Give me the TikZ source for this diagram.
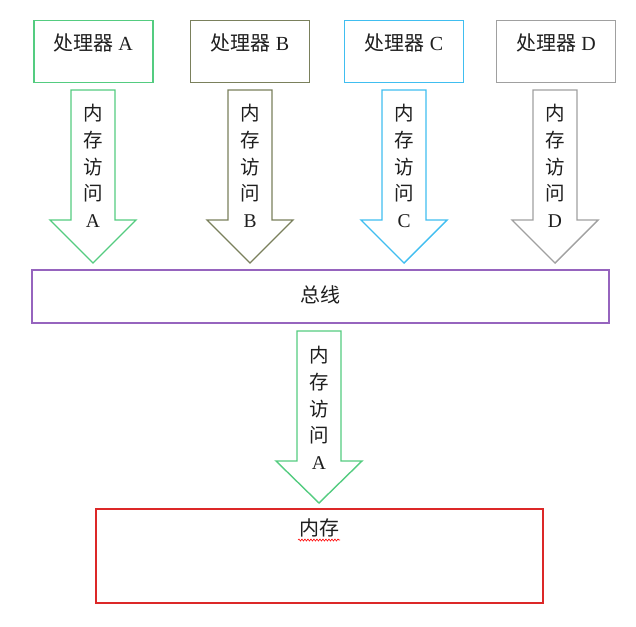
\documentclass[tikz,border=0pt]{standalone}
\usepackage{fontspec}
\setmainfont{Liberation Serif}
\newfontfamily\cjk{Noto Sans CJK SC}
\usetikzlibrary{decorations.pathmorphing}
\definecolor{cA}{RGB}{84,204,128}
\definecolor{cB}{RGB}{122,128,92}
\definecolor{cC}{RGB}{64,190,240}
\definecolor{cD}{RGB}{160,160,160}
\definecolor{cBus}{RGB}{150,100,190}
\definecolor{cMem}{RGB}{220,40,40}
\definecolor{txt}{RGB}{30,30,30}
\tikzset{
  procbox/.style={draw, line width=1.4pt, minimum width=119pt, minimum height=62pt, inner sep=0pt},
  lbl/.style={text=txt, font=\fontsize{20}{22}\selectfont, inner sep=0pt},
  vlbl/.style={text=txt, font=\fontsize{19.5}{26.7}\selectfont, align=center, inner sep=0pt},
  blk/.style={line width=1.4pt, fill=white, line join=miter}
}
\newcommand{\blkarrow}[5]{% cx, color, top, head base, tip
  \draw[blk, draw=#2] (#1-22,#3) -- (#1+22,#3) -- (#1+22,#4) -- (#1+43,#4) -- (#1,#5)
    -- (#1-43,#4) -- (#1-22,#4) -- cycle;}
\begin{document}
\begin{tikzpicture}[x=1pt,y=-1pt]
\useasboundingbox (0,0) rectangle (636,626);
% processor boxes
\node[procbox, draw=cA] (pA) at (93.5,51.5) {};
\node[procbox, draw=cB] (pB) at (250,51.5) {};
\node[procbox, draw=cC] (pC) at (404,51.5) {};
\node[procbox, draw=cD] (pD) at (556,51.5) {};
\node[lbl] (tA) at (93,43) {{\cjk 处理器} A};
\node[lbl] (tB) at (250,43) {{\cjk 处理器} B};
\node[lbl] (tC) at (404,43) {{\cjk 处理器} C};
\node[lbl] (tD) at (556,43) {{\cjk 处理器} D};
% block arrows
\blkarrow{93}{cA}{90}{220}{263}
\blkarrow{250}{cB}{90}{220}{263}
\blkarrow{404}{cC}{90}{220}{263}
\blkarrow{555}{cD}{90}{220}{263}
\node[vlbl] (aA) at (93,166) {\cjk 内\\\cjk 存\\\cjk 访\\\cjk 问\\A};
\node[vlbl] (aB) at (250,166) {\cjk 内\\\cjk 存\\\cjk 访\\\cjk 问\\B};
\node[vlbl] (aC) at (404,166) {\cjk 内\\\cjk 存\\\cjk 访\\\cjk 问\\C};
\node[vlbl] (aD) at (555,166) {\cjk 内\\\cjk 存\\\cjk 访\\\cjk 问\\D};
% bus
\node[draw=cBus, line width=1.4pt, minimum width=577pt, minimum height=53pt, inner sep=0pt] (bus) at (320.5,296.5) {};
\node[lbl] (busl) at (320,295) {\cjk 总线};
% bottom arrow
\blkarrow{319}{cA}{331}{461}{503}
\node[vlbl] (aM) at (319,408) {\cjk 内\\\cjk 存\\\cjk 访\\\cjk 问\\A};
% memory
\node[draw=cMem, line width=1.4pt, minimum width=447pt, minimum height=94pt, inner sep=0pt] (mem) at (319.5,556) {};
\node[lbl] (meml) at (319,528) {\cjk 内存};
\draw[red, line width=0.6pt, decorate, decoration={snake, amplitude=1pt, segment length=3pt}] (298,540) -- (340,540);
\end{tikzpicture}
\end{document}
